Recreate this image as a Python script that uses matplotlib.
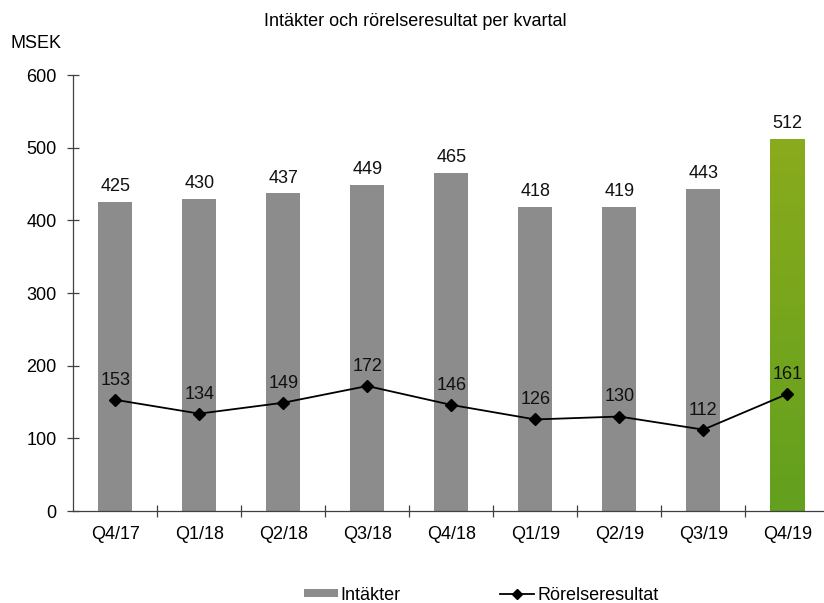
import matplotlib
matplotlib.use("Agg")
import matplotlib.pyplot as plt
import numpy as np
from matplotlib.colors import LinearSegmentedColormap
from matplotlib.lines import Line2D
from matplotlib.patches import Patch

categories = ["Q4/17", "Q1/18", "Q2/18", "Q3/18", "Q4/18", "Q1/19", "Q2/19", "Q3/19", "Q4/19"]
intakter = [425, 430, 437, 449, 465, 418, 419, 443, 512]
rorelseresultat = [153, 134, 149, 172, 146, 126, 130, 112, 161]
yticks = [0, 100, 200, 300, 400, 500, 600]

plt.rcParams['font.family'] = ['Liberation Sans', 'DejaVu Sans']
FS = 13

W, H = 824, 603
fig = plt.figure(figsize=(W / 100, H / 100), dpi=100)
ax = fig.add_axes([73.3 / W, 92 / H, 756 / W, 436 / H])

x = np.arange(len(categories))
bw = 0.405
colors = ["#8c8c8c"] * (len(categories) - 1) + ["none"]
bars = ax.bar(x, intakter, width=bw, color=colors, edgecolor="none", zorder=2)

# gradient for last bar
last = bars[-1]
cmap = LinearSegmentedColormap.from_list("g", ["#62a01e", "#8aab1c"])
grad = np.linspace(0, 1, 256).reshape(-1, 1)
x0 = last.get_x()
im = ax.imshow(grad, cmap=cmap, aspect="auto", origin="lower",
               extent=[x0, x0 + bw, 0, intakter[-1]], zorder=2)
im.set_clip_path(last)

for xi, v in zip(x, intakter):
    ax.annotate(str(v), (xi, v), xytext=(0, 5), textcoords="offset points",
                ha="center", va="bottom", fontsize=FS, color="#111111", zorder=4)

ax.plot(x, rorelseresultat, color="black", lw=1.3, marker="D", markersize=6,
        zorder=3)
for xi, v in zip(x, rorelseresultat):
    ax.annotate(str(v), (xi, v), xytext=(0, 8), textcoords="offset points",
                ha="center", va="bottom", fontsize=FS, color="#111111", zorder=4)

ax.set_xlim(-0.5, len(categories) - 0.5)
ax.set_ylim(0, 600)
ax.set_yticks(yticks)
ax.set_yticklabels([str(t) for t in yticks], fontsize=FS)
ax.set_xticks(x)
ax.set_xticklabels(categories, fontsize=FS)
ax.set_xticks(np.arange(0.5, len(categories) - 0.5, 1), minor=True)
ax.tick_params(axis="x", which="major", length=0, pad=11)
ax.tick_params(axis="x", which="minor", direction="inout", length=8, width=0.9,
               color="#404040")
ax.tick_params(axis="y", direction="inout", length=8, width=0.9, color="#404040",
               pad=8)

for s in ["top", "right"]:
    ax.spines[s].set_visible(False)
for s in ["left", "bottom"]:
    ax.spines[s].set_color("#404040")
    ax.spines[s].set_linewidth(0.9)

fig.text(415 / W, 1 - 22 / H, "Intäkter och rörelseresultat per kvartal",
         ha="center", va="center", fontsize=FS)
fig.text(10 / W, 1 - 43 / H, "MSEK", ha="left", va="center", fontsize=FS)

handles = [Patch(facecolor="#8c8c8c", edgecolor="none"),
           Line2D([0], [0], color="black", lw=1.3, marker="D", markersize=5)]
fig.legend(handles, ["Intäkter", "Rörelseresultat"], loc="center",
           bbox_to_anchor=(481 / W, 1 - 595 / H), ncol=2, frameon=False,
           fontsize=FS, handlelength=1.9, handletextpad=0.15, columnspacing=5.5,
           handleheight=0.35)

fig.savefig("out.png", dpi=100)
